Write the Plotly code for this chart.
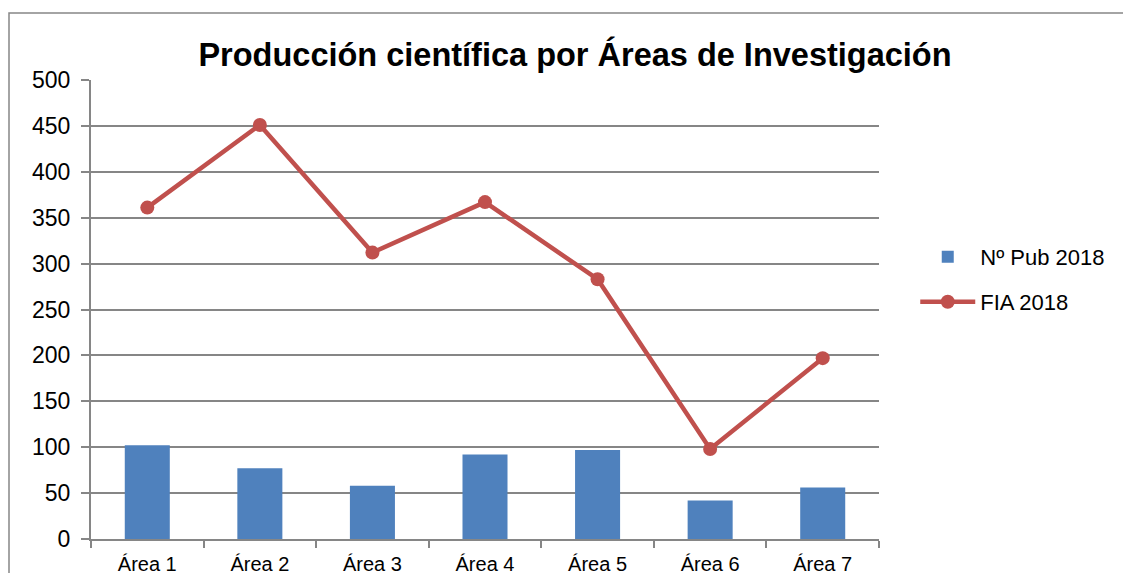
import plotly.graph_objects as go

categories = ["Área 1", "Área 2", "Área 3", "Área 4", "Área 5", "Área 6", "Área 7"]
pub_2018 = [102, 77, 58, 92, 97, 42, 56]
fia_2018 = [361, 451, 312, 367, 283, 98, 197]
title_text = "Producción científica por Áreas de Investigación"

FONT = "Liberation Sans"
GRID = "#868686"

# page body has an 8px default margin; the figure is sized to fit the window
W, H = 1123, 565
L, T, PW, PH = 83, 72, 788, 459

fig = go.Figure()
fig.add_trace(go.Bar(
    x=categories, y=pub_2018, name="Nº Pub 2018",
    marker=dict(color="#4F81BD", line=dict(width=0)),
    width=0.4, legend="legend",
))
fig.add_trace(go.Scatter(
    x=categories, y=fia_2018, name="FIA 2018", mode="lines+markers",
    line=dict(color="#C0504D", width=4.5),
    marker=dict(color="#C0504D", size=14),
    legend="legend2",
))

LEG_X = 1.046
fig.update_layout(
    width=W, height=H,
    margin=dict(l=L, r=W - L - PW, t=T, b=H - T - PH, autoexpand=False),
    paper_bgcolor="white", plot_bgcolor="white",
    font=dict(family=FONT, size=20, color="black"),
    title=dict(text="<b>" + title_text + "</b>", font=dict(family=FONT, size=32.5, color="black"),
               x=567 / W, xref="container", xanchor="center",
               y=1 - 47 / H, yref="container", yanchor="middle"),
    showlegend=True,
    legend=dict(x=LEG_X, y=(T + PH - 249) / PH, xanchor="left", yanchor="middle", itemwidth=55,
                font=dict(family=FONT, size=22, color="black"), bgcolor="rgba(0,0,0,0)"),
    legend2=dict(x=LEG_X, y=(T + PH - 294) / PH, xanchor="left", yanchor="middle", itemwidth=55,
                 font=dict(family=FONT, size=22, color="black"), bgcolor="rgba(0,0,0,0)"),
    xaxis=dict(
        showline=True, linecolor=GRID, linewidth=2,
        ticks="outside", tickson="boundaries", ticklen=7, tickcolor=GRID, tickwidth=2,
        showgrid=False, tickfont=dict(size=20), ticklabelstandoff=6, fixedrange=True,
    ),
    yaxis=dict(
        range=[0, 500], dtick=50, tick0=0,
        showline=True, linecolor=GRID, linewidth=2,
        ticks="outside", ticklen=8, tickcolor=GRID, tickwidth=2,
        showgrid=True, gridcolor=GRID, gridwidth=1.5,
        zeroline=False, tickfont=dict(size=23), ticklabelstandoff=6, fixedrange=True,
    ),
    shapes=[dict(
        type="rect", xref="paper", yref="paper",
        x0=(1 - L) / PW, x1=1.6, y0=-0.5, y1=(T + PH - 5) / PH,
        line=dict(color=GRID, width=1.5), fillcolor="rgba(0,0,0,0)", layer="below",
    )],
)

fig.write_html("out.html")
